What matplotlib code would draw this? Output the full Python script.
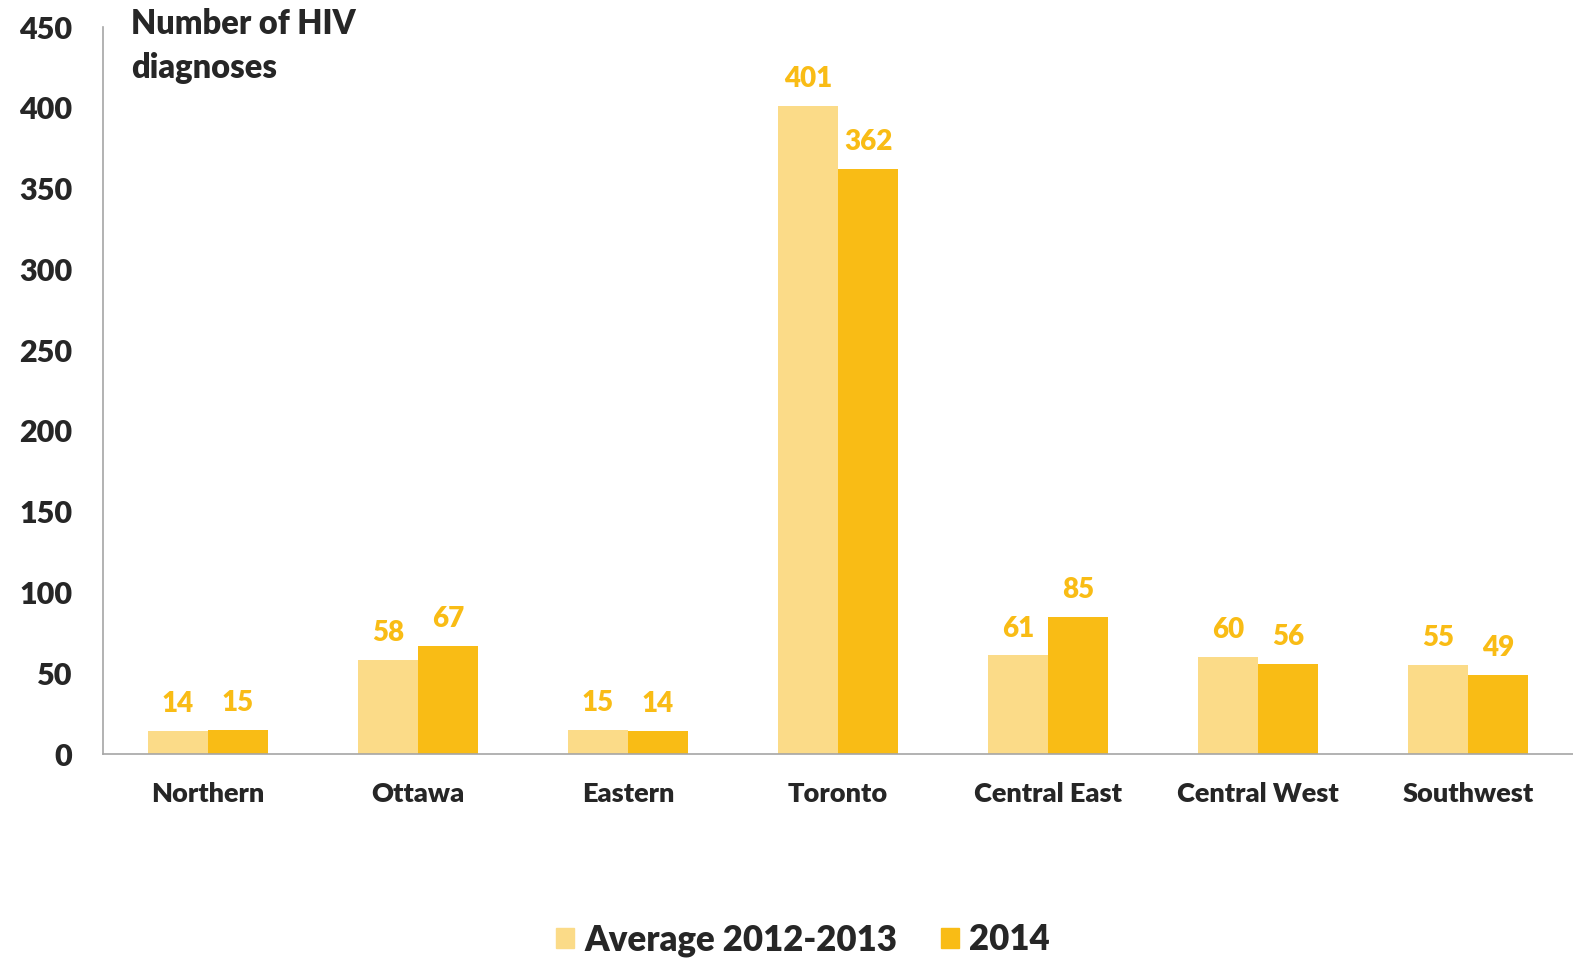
import numpy as np
import matplotlib
matplotlib.use("Agg")
import matplotlib.pyplot as plt
from matplotlib.patches import Patch

regions = ["Northern", "Ottawa", "Eastern", "Toronto", "Central East", "Central West", "Southwest"]
avg_2012_2013 = [14, 58, 15, 401, 61, 60, 55]
diag_2014 = [15, 67, 14, 362, 85, 56, 49]
yticks = [0, 50, 100, 150, 200, 250, 300, 350, 400, 450]

LIGHT = "#FBDB88"
DARK = "#F9BC15"
TEXT = "#262626"
AXIS = "#A6A6A6"

plt.rcParams["font.family"] = ["Lato", "DejaVu Sans"]
plt.rcParams["font.weight"] = "heavy"

fig = plt.figure(figsize=(15.73, 9.61), dpi=100)
ax = fig.add_axes([0.0655, 0.2154, 0.9345, 0.7565])

x = np.arange(len(regions))
w = 0.2857
b1 = ax.bar(x - w / 2, avg_2012_2013, w, color=LIGHT, label="Average 2012-2013")
b2 = ax.bar(x + w / 2, diag_2014, w, color=DARK, label="2014")

# value labels above each bar
for bars, vals in ((b1, avg_2012_2013), (b2, diag_2014)):
    for bar, v in zip(bars, vals):
        ax.annotate(str(v), (bar.get_x() + bar.get_width() / 2, v),
                    xytext=(0, 10), textcoords="offset points",
                    ha="center", va="bottom", color=DARK,
                    fontsize=20, fontweight="heavy")

ax.set_xlim(-0.5, len(regions) - 0.5)
ax.set_ylim(0, 450)
ax.set_yticks(yticks)
ax.set_yticklabels([str(t) for t in yticks])
ax.set_xticks(x)
ax.set_xticklabels(regions)
ax.tick_params(axis="y", length=0, pad=22, labelsize=22, labelcolor=TEXT)
ax.tick_params(axis="x", length=0, pad=20, labelsize=19.5, labelcolor=TEXT)

for s in ("top", "right"):
    ax.spines[s].set_visible(False)
for s in ("left", "bottom"):
    ax.spines[s].set_color(AXIS)
    ax.spines[s].set_linewidth(1.2)

fig.text(131 / 1573, 1 - 8 / 961, "Number of HIV\ndiagnoses", ha="left", va="top",
         fontsize=23.5, fontweight="heavy", color=TEXT, linespacing=1.45)

handles = [Patch(color=LIGHT, label="Average 2012-2013"), Patch(color=DARK, label="2014")]
fig.legend(handles=handles, loc="center", bbox_to_anchor=(0.5105, 0.022), ncol=2,
           frameon=False, handlelength=0.52, handleheight=0.52,
           handletextpad=0.3, columnspacing=1.25, labelcolor=TEXT,
           prop={"weight": "heavy", "size": 25})

fig.savefig("out.png", dpi=100)
